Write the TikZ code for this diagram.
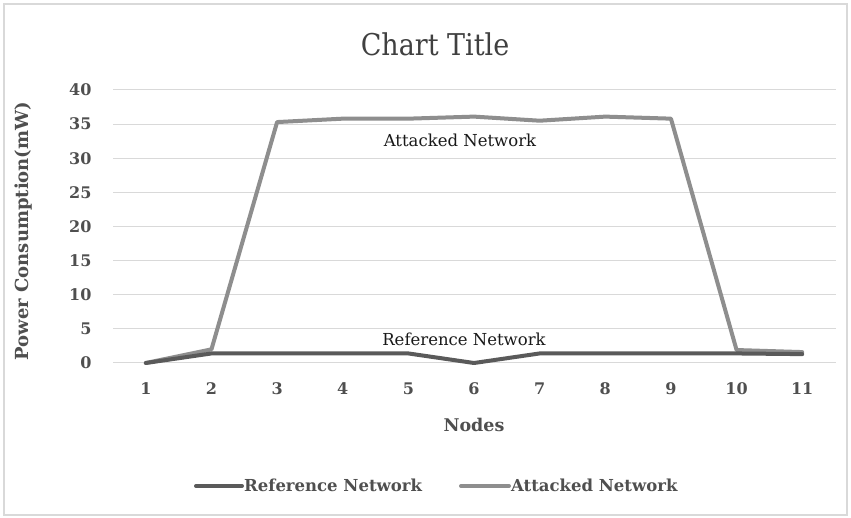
\documentclass[tikz,border=0pt]{standalone}
\usepackage{fontspec}
\setmainfont{DejaVu Serif}
\newfontfamily\condfont{DejaVu Serif Condensed}
\definecolor{txtgray}{HTML}{4F4F4F}
\definecolor{refline}{HTML}{5A5A5A}
\definecolor{attline}{HTML}{8E8E8E}
\definecolor{gridgray}{HTML}{D9D9D9}
\newcommand\dpt[2]{({113+65.64*(#1-0.5)},{363-6.825*(#2)})}
\tikzset{
  ticklbl/.style={text=txtgray, font=\bfseries\fontsize{16}{18}\selectfont},
  serieslbl/.style={text=black!90, font=\fontsize{16.5}{18}\selectfont},
  legendlbl/.style={text=txtgray, font=\bfseries\fontsize{16.5}{19}\selectfont, anchor=west, inner sep=1pt},
  refstyle/.style={draw=refline, line width=4pt, line join=round, line cap=round},
  attstyle/.style={draw=attline, line width=4pt, line join=round, line cap=round},
}
\begin{document}
\begin{tikzpicture}[x=1pt,y=-1pt]
\useasboundingbox (0,0) rectangle (851,518);
\fill[white] (0,0) rectangle (851,518);
% chart frame
\draw[gridgray, line width=1.2pt] (4,4) rectangle (847,515);
% title
\node[text=black!75, font=\condfont\fontsize{30}{34}\selectfont] (title) at (435,44) {Chart Title};
% horizontal grid lines and value labels
\foreach \v in {0,5,...,40}{
  \draw[gridgray, line width=1pt] (113,{363-6.825*\v}) -- (836,{363-6.825*\v});
  \node[ticklbl, anchor=east] (ytick\v) at (95,{363-6.825*\v}) {\v};
}
% category labels
\foreach \i in {1,...,11}{
  \node[ticklbl] (xtick\i) at ({113+65.64*(\i-0.5)},389) {\i};
}
% axis titles
\node[text=txtgray, font=\bfseries\fontsize{17.5}{20}\selectfont] (xtitle) at (474,425) {Nodes};
\node[text=txtgray, font=\bfseries\fontsize{18}{20}\selectfont, rotate=90] (ytitle) at (24,231) {Power Consumption(mW)};
% series
\draw[attstyle] plot coordinates {
  \dpt{1}{0} \dpt{2}{2.0} \dpt{3}{35.3} \dpt{4}{35.8} \dpt{5}{35.8} \dpt{6}{36.1}
  \dpt{7}{35.5} \dpt{8}{36.1} \dpt{9}{35.8} \dpt{10}{1.9} \dpt{11}{1.6}};
\draw[refstyle] plot coordinates {
  \dpt{1}{0} \dpt{2}{1.4} \dpt{3}{1.4} \dpt{4}{1.4} \dpt{5}{1.4} \dpt{6}{0}
  \dpt{7}{1.4} \dpt{8}{1.4} \dpt{9}{1.4} \dpt{10}{1.4} \dpt{11}{1.3}};
% series labels
\node[serieslbl] (attlbl) at (460,140) {Attacked Network};
\node[serieslbl] (reflbl) at (464,339) {Reference Network};
% legend
\coordinate (refkeyA) at (196,486);
\coordinate (refkeyB) at (242,486);
\draw[refstyle] (refkeyA) -- (refkeyB);
\node[legendlbl] (reflegend) at (243,485) {Reference Network};
\coordinate (attkeyA) at (461,486);
\coordinate (attkeyB) at (509,486);
\draw[attstyle] (attkeyA) -- (attkeyB);
\node[legendlbl] (attlegend) at (510,485) {Attacked Network};
\end{tikzpicture}
\end{document}
